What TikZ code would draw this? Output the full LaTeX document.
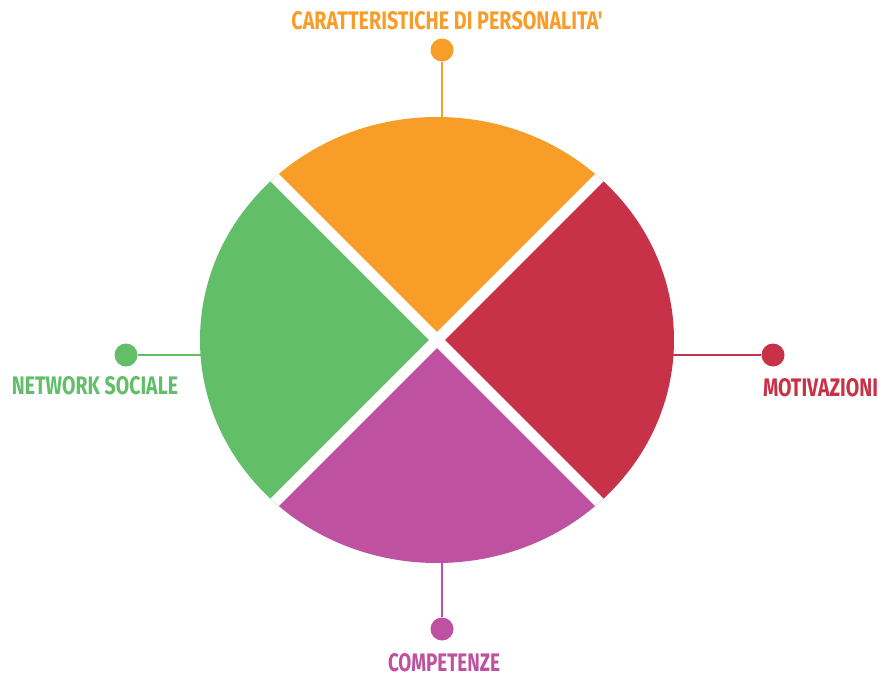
\documentclass[tikz,border=0pt]{standalone}
\usepackage{fontspec}
\usepackage{graphicx}
\newfontfamily\labelfont{Fira Sans}
\definecolor{cOrange}{RGB}{248,157,40}
\definecolor{cRed}{RGB}{200,50,72}
\definecolor{cPurple}{RGB}{190,82,160}
\definecolor{cGreen}{RGB}{98,190,105}
\tikzset{
  dot/.style={circle, fill=#1, draw=none, minimum size=23pt, inner sep=0pt},
  lead/.style={draw=#1, line width=2.5pt},
  lbl/.style={text=#1, inner sep=0pt, anchor=center},
  gapline/.style={draw=white, line width=11pt},
}
\newcommand{\lbltext}[3]{\resizebox{#1pt}{#2pt}{\labelfont\bfseries #3}}
\begin{document}
\begin{tikzpicture}[x=1pt, y=-1pt]
\useasboundingbox[fill=white] (0,0) rectangle (883,675);
\coordinate (c) at (437,340);
% connector end points on the ellipse
\coordinate (eTop) at (442,125);
\coordinate (eBot) at (442,555);
\coordinate (eLeft) at (208,355);
\coordinate (eRight) at (666,355);
% dots
\node[dot=cOrange] (dTop) at (442,50) {};
\node[dot=cPurple] (dBot) at (442,629) {};
\node[dot=cGreen] (dLeft) at (126,355) {};
\node[dot=cRed] (dRight) at (773,355) {};
% leads
\draw[lead=cOrange] (dTop) -- (eTop);
\draw[lead=cPurple] (dBot) -- (eBot);
\draw[lead=cGreen] (dLeft) -- (eLeft);
\draw[lead=cRed] (dRight) -- (eRight);
% quadrants
\begin{scope}
\clip (c) ellipse [x radius=237, y radius=223];
\fill[cOrange] (c) -- ++(-300,-300) -- ++(600,0) -- cycle;
\fill[cRed] (c) -- ++(300,-300) -- ++(0,600) -- cycle;
\fill[cPurple] (c) -- ++(300,300) -- ++(-600,0) -- cycle;
\fill[cGreen] (c) -- ++(-300,300) -- ++(0,-600) -- cycle;
\draw[gapline] (c) -- ++(-300,-300);
\draw[gapline] (c) -- ++(300,-300);
\draw[gapline] (c) -- ++(300,300);
\draw[gapline] (c) -- ++(-300,300);
\end{scope}
% labels
\node[lbl=cOrange] (tTop) at (447,21) {\lbltext{311}{18}{CARATTERISTICHE DI PERSONALITA'}};
\node[lbl=cGreen] (tLeft) at (95,386) {\lbltext{166}{18}{NETWORK SOCIALE}};
\node[lbl=cRed] (tRight) at (820.5,387.5) {\lbltext{115}{18}{MOTIVAZIONI}};
\node[lbl=cPurple] (tBot) at (444,662.5) {\lbltext{112}{18}{COMPETENZE}};
\end{tikzpicture}
\end{document}
